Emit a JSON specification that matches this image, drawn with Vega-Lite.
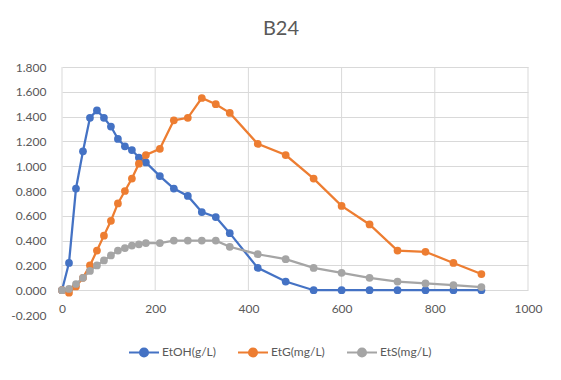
{
  "$schema": "https://vega.github.io/schema/vega-lite/v6.json",
  "autosize": "none",
  "width": 466,
  "height": 248,
  "padding": {"left": 62, "top": 67, "right": 33, "bottom": 65},
  "background": "white",
  "config": {
    "font": "Lato",
    "view": {"stroke": null},
    "axis": {"labelFont": "Lato", "labelColor": "#595959", "labelFontSize": 12}
  },
  "title": {
    "text": "B24",
    "fontSize": 20,
    "fontWeight": "normal",
    "color": "#595959",
    "font": "Lato",
    "anchor": "middle",
    "dx": -14,
    "offset": 22
  },
  "datasets": {
    "grid": [{"gx": 0}, {"gx": 200}, {"gx": 400}, {"gx": 600}, {"gx": 800}, {"gx": 1000}],
    "series": [
      {"t": 0, "s": "EtOH(g/L)", "v": 0.0},
      {"t": 15, "s": "EtOH(g/L)", "v": 0.22},
      {"t": 30, "s": "EtOH(g/L)", "v": 0.82},
      {"t": 45, "s": "EtOH(g/L)", "v": 1.12},
      {"t": 60, "s": "EtOH(g/L)", "v": 1.39},
      {"t": 75, "s": "EtOH(g/L)", "v": 1.45},
      {"t": 90, "s": "EtOH(g/L)", "v": 1.39},
      {"t": 105, "s": "EtOH(g/L)", "v": 1.32},
      {"t": 120, "s": "EtOH(g/L)", "v": 1.22},
      {"t": 135, "s": "EtOH(g/L)", "v": 1.16},
      {"t": 150, "s": "EtOH(g/L)", "v": 1.13},
      {"t": 165, "s": "EtOH(g/L)", "v": 1.07},
      {"t": 180, "s": "EtOH(g/L)", "v": 1.03},
      {"t": 210, "s": "EtOH(g/L)", "v": 0.92},
      {"t": 240, "s": "EtOH(g/L)", "v": 0.82},
      {"t": 270, "s": "EtOH(g/L)", "v": 0.76},
      {"t": 300, "s": "EtOH(g/L)", "v": 0.63},
      {"t": 330, "s": "EtOH(g/L)", "v": 0.59},
      {"t": 360, "s": "EtOH(g/L)", "v": 0.46},
      {"t": 420, "s": "EtOH(g/L)", "v": 0.18},
      {"t": 480, "s": "EtOH(g/L)", "v": 0.07},
      {"t": 540, "s": "EtOH(g/L)", "v": 0.0},
      {"t": 600, "s": "EtOH(g/L)", "v": 0.0},
      {"t": 660, "s": "EtOH(g/L)", "v": 0.0},
      {"t": 720, "s": "EtOH(g/L)", "v": 0.0},
      {"t": 780, "s": "EtOH(g/L)", "v": 0.0},
      {"t": 840, "s": "EtOH(g/L)", "v": 0.0},
      {"t": 900, "s": "EtOH(g/L)", "v": 0.0},
      {"t": 0, "s": "EtG(mg/L)", "v": 0.0},
      {"t": 15, "s": "EtG(mg/L)", "v": -0.02},
      {"t": 30, "s": "EtG(mg/L)", "v": 0.03},
      {"t": 45, "s": "EtG(mg/L)", "v": 0.1},
      {"t": 60, "s": "EtG(mg/L)", "v": 0.2},
      {"t": 75, "s": "EtG(mg/L)", "v": 0.32},
      {"t": 90, "s": "EtG(mg/L)", "v": 0.44},
      {"t": 105, "s": "EtG(mg/L)", "v": 0.56},
      {"t": 120, "s": "EtG(mg/L)", "v": 0.7},
      {"t": 135, "s": "EtG(mg/L)", "v": 0.8},
      {"t": 150, "s": "EtG(mg/L)", "v": 0.9},
      {"t": 165, "s": "EtG(mg/L)", "v": 1.02},
      {"t": 180, "s": "EtG(mg/L)", "v": 1.09},
      {"t": 210, "s": "EtG(mg/L)", "v": 1.14},
      {"t": 240, "s": "EtG(mg/L)", "v": 1.37},
      {"t": 270, "s": "EtG(mg/L)", "v": 1.39},
      {"t": 300, "s": "EtG(mg/L)", "v": 1.55},
      {"t": 330, "s": "EtG(mg/L)", "v": 1.5},
      {"t": 360, "s": "EtG(mg/L)", "v": 1.43},
      {"t": 420, "s": "EtG(mg/L)", "v": 1.18},
      {"t": 480, "s": "EtG(mg/L)", "v": 1.09},
      {"t": 540, "s": "EtG(mg/L)", "v": 0.9},
      {"t": 600, "s": "EtG(mg/L)", "v": 0.68},
      {"t": 660, "s": "EtG(mg/L)", "v": 0.53},
      {"t": 720, "s": "EtG(mg/L)", "v": 0.32},
      {"t": 780, "s": "EtG(mg/L)", "v": 0.31},
      {"t": 840, "s": "EtG(mg/L)", "v": 0.22},
      {"t": 900, "s": "EtG(mg/L)", "v": 0.13},
      {"t": 0, "s": "EtS(mg/L)", "v": 0.0},
      {"t": 15, "s": "EtS(mg/L)", "v": 0.01},
      {"t": 30, "s": "EtS(mg/L)", "v": 0.05},
      {"t": 45, "s": "EtS(mg/L)", "v": 0.1},
      {"t": 60, "s": "EtS(mg/L)", "v": 0.155},
      {"t": 75, "s": "EtS(mg/L)", "v": 0.2},
      {"t": 90, "s": "EtS(mg/L)", "v": 0.24},
      {"t": 105, "s": "EtS(mg/L)", "v": 0.28},
      {"t": 120, "s": "EtS(mg/L)", "v": 0.32},
      {"t": 135, "s": "EtS(mg/L)", "v": 0.34},
      {"t": 150, "s": "EtS(mg/L)", "v": 0.36},
      {"t": 165, "s": "EtS(mg/L)", "v": 0.37},
      {"t": 180, "s": "EtS(mg/L)", "v": 0.38},
      {"t": 210, "s": "EtS(mg/L)", "v": 0.38},
      {"t": 240, "s": "EtS(mg/L)", "v": 0.4},
      {"t": 270, "s": "EtS(mg/L)", "v": 0.4},
      {"t": 300, "s": "EtS(mg/L)", "v": 0.4},
      {"t": 330, "s": "EtS(mg/L)", "v": 0.4},
      {"t": 360, "s": "EtS(mg/L)", "v": 0.35},
      {"t": 420, "s": "EtS(mg/L)", "v": 0.29},
      {"t": 480, "s": "EtS(mg/L)", "v": 0.25},
      {"t": 540, "s": "EtS(mg/L)", "v": 0.18},
      {"t": 600, "s": "EtS(mg/L)", "v": 0.14},
      {"t": 660, "s": "EtS(mg/L)", "v": 0.1},
      {"t": 720, "s": "EtS(mg/L)", "v": 0.07},
      {"t": 780, "s": "EtS(mg/L)", "v": 0.055},
      {"t": 840, "s": "EtS(mg/L)", "v": 0.04},
      {"t": 900, "s": "EtS(mg/L)", "v": 0.025}
    ]
  },
  "layer": [
    {
      "data": {"name": "grid"},
      "mark": {"type": "rule", "color": "#D9D9D9", "strokeWidth": 1},
      "encoding": {
        "x": {
          "field": "gx",
          "type": "quantitative",
          "scale": {"domain": [0, 1000], "nice": false},
          "axis": {
            "title": null,
            "values": [0, 200, 400, 600, 800, 1000],
            "format": "d",
            "grid": false,
            "domain": false,
            "ticks": false,
            "offset": -14,
            "labelPadding": 2,
            "labelBaseline": "top",
            "labelOverlap": false,
            "labelFlush": false
          }
        },
        "y": {
          "datum": 0,
          "type": "quantitative",
          "scale": {"domain": [-0.2, 1.8], "nice": false},
          "axis": {
            "title": null,
            "values": [-0.2, 0, 0.2, 0.4, 0.6, 0.8, 1.0, 1.2, 1.4, 1.6, 1.8],
            "labelExpr": "replace(format(datum.value, '.3f'), '\u2212', '-')",
            "labelOverlap": false,
            "domain": false,
            "ticks": false,
            "labelPadding": 16,
            "grid": true,
            "gridColor": "#D9D9D9",
            "gridOpacity": {"condition": {"test": "datum.value < -0.1", "value": 0}, "value": 1}
          }
        },
        "y2": {"datum": 1.8}
      }
    },
    {
      "data": {"name": "series"},
      "mark": {
        "type": "line",
        "strokeWidth": 2.25,
        "point": {"filled": true, "size": 60}
      },
      "encoding": {
        "x": {
          "field": "t",
          "type": "quantitative",
          "scale": {"domain": [0, 1000], "nice": false},
          "axis": {
            "title": null,
            "values": [0, 200, 400, 600, 800, 1000],
            "format": "d",
            "grid": false,
            "domain": false,
            "ticks": false,
            "offset": -14,
            "labelPadding": 2,
            "labelBaseline": "top",
            "labelOverlap": false,
            "labelFlush": false
          }
        },
        "y": {
          "field": "v",
          "type": "quantitative",
          "scale": {"domain": [-0.2, 1.8], "nice": false},
          "axis": {
            "title": null,
            "values": [-0.2, 0, 0.2, 0.4, 0.6, 0.8, 1.0, 1.2, 1.4, 1.6, 1.8],
            "labelExpr": "replace(format(datum.value, '.3f'), '\u2212', '-')",
            "labelOverlap": false,
            "domain": false,
            "ticks": false,
            "labelPadding": 16,
            "grid": true,
            "gridColor": "#D9D9D9",
            "gridOpacity": {"condition": {"test": "datum.value < -0.1", "value": 0}, "value": 1}
          }
        },
        "color": {
          "field": "s",
          "type": "nominal",
          "sort": ["EtOH(g/L)", "EtG(mg/L)", "EtS(mg/L)"],
          "scale": {"domain": ["EtOH(g/L)", "EtG(mg/L)", "EtS(mg/L)"], "range": ["#4472C4", "#ED7D31", "#A5A5A5"]},
          "legend": {
            "title": null,
            "orient": "none",
            "direction": "horizontal",
            "legendX": 66,
            "legendY": 269,
            "symbolType": "M-1,0L1,0M-0.27,0A0.27,0.27 0 1,1 0.27,0A0.27,0.27 0 1,1 -0.27,0",
            "symbolSize": 900,
            "symbolStrokeWidth": 2,
            "labelFont": "Lato",
            "labelFontSize": 12,
            "labelColor": "#595959",
            "labelOffset": 2,
            "columnPadding": 18,
            "encode": {"symbols": {"update": {"fill": {"scale": "color", "field": "value"}}}}
          }
        }
      }
    }
  ]
}
